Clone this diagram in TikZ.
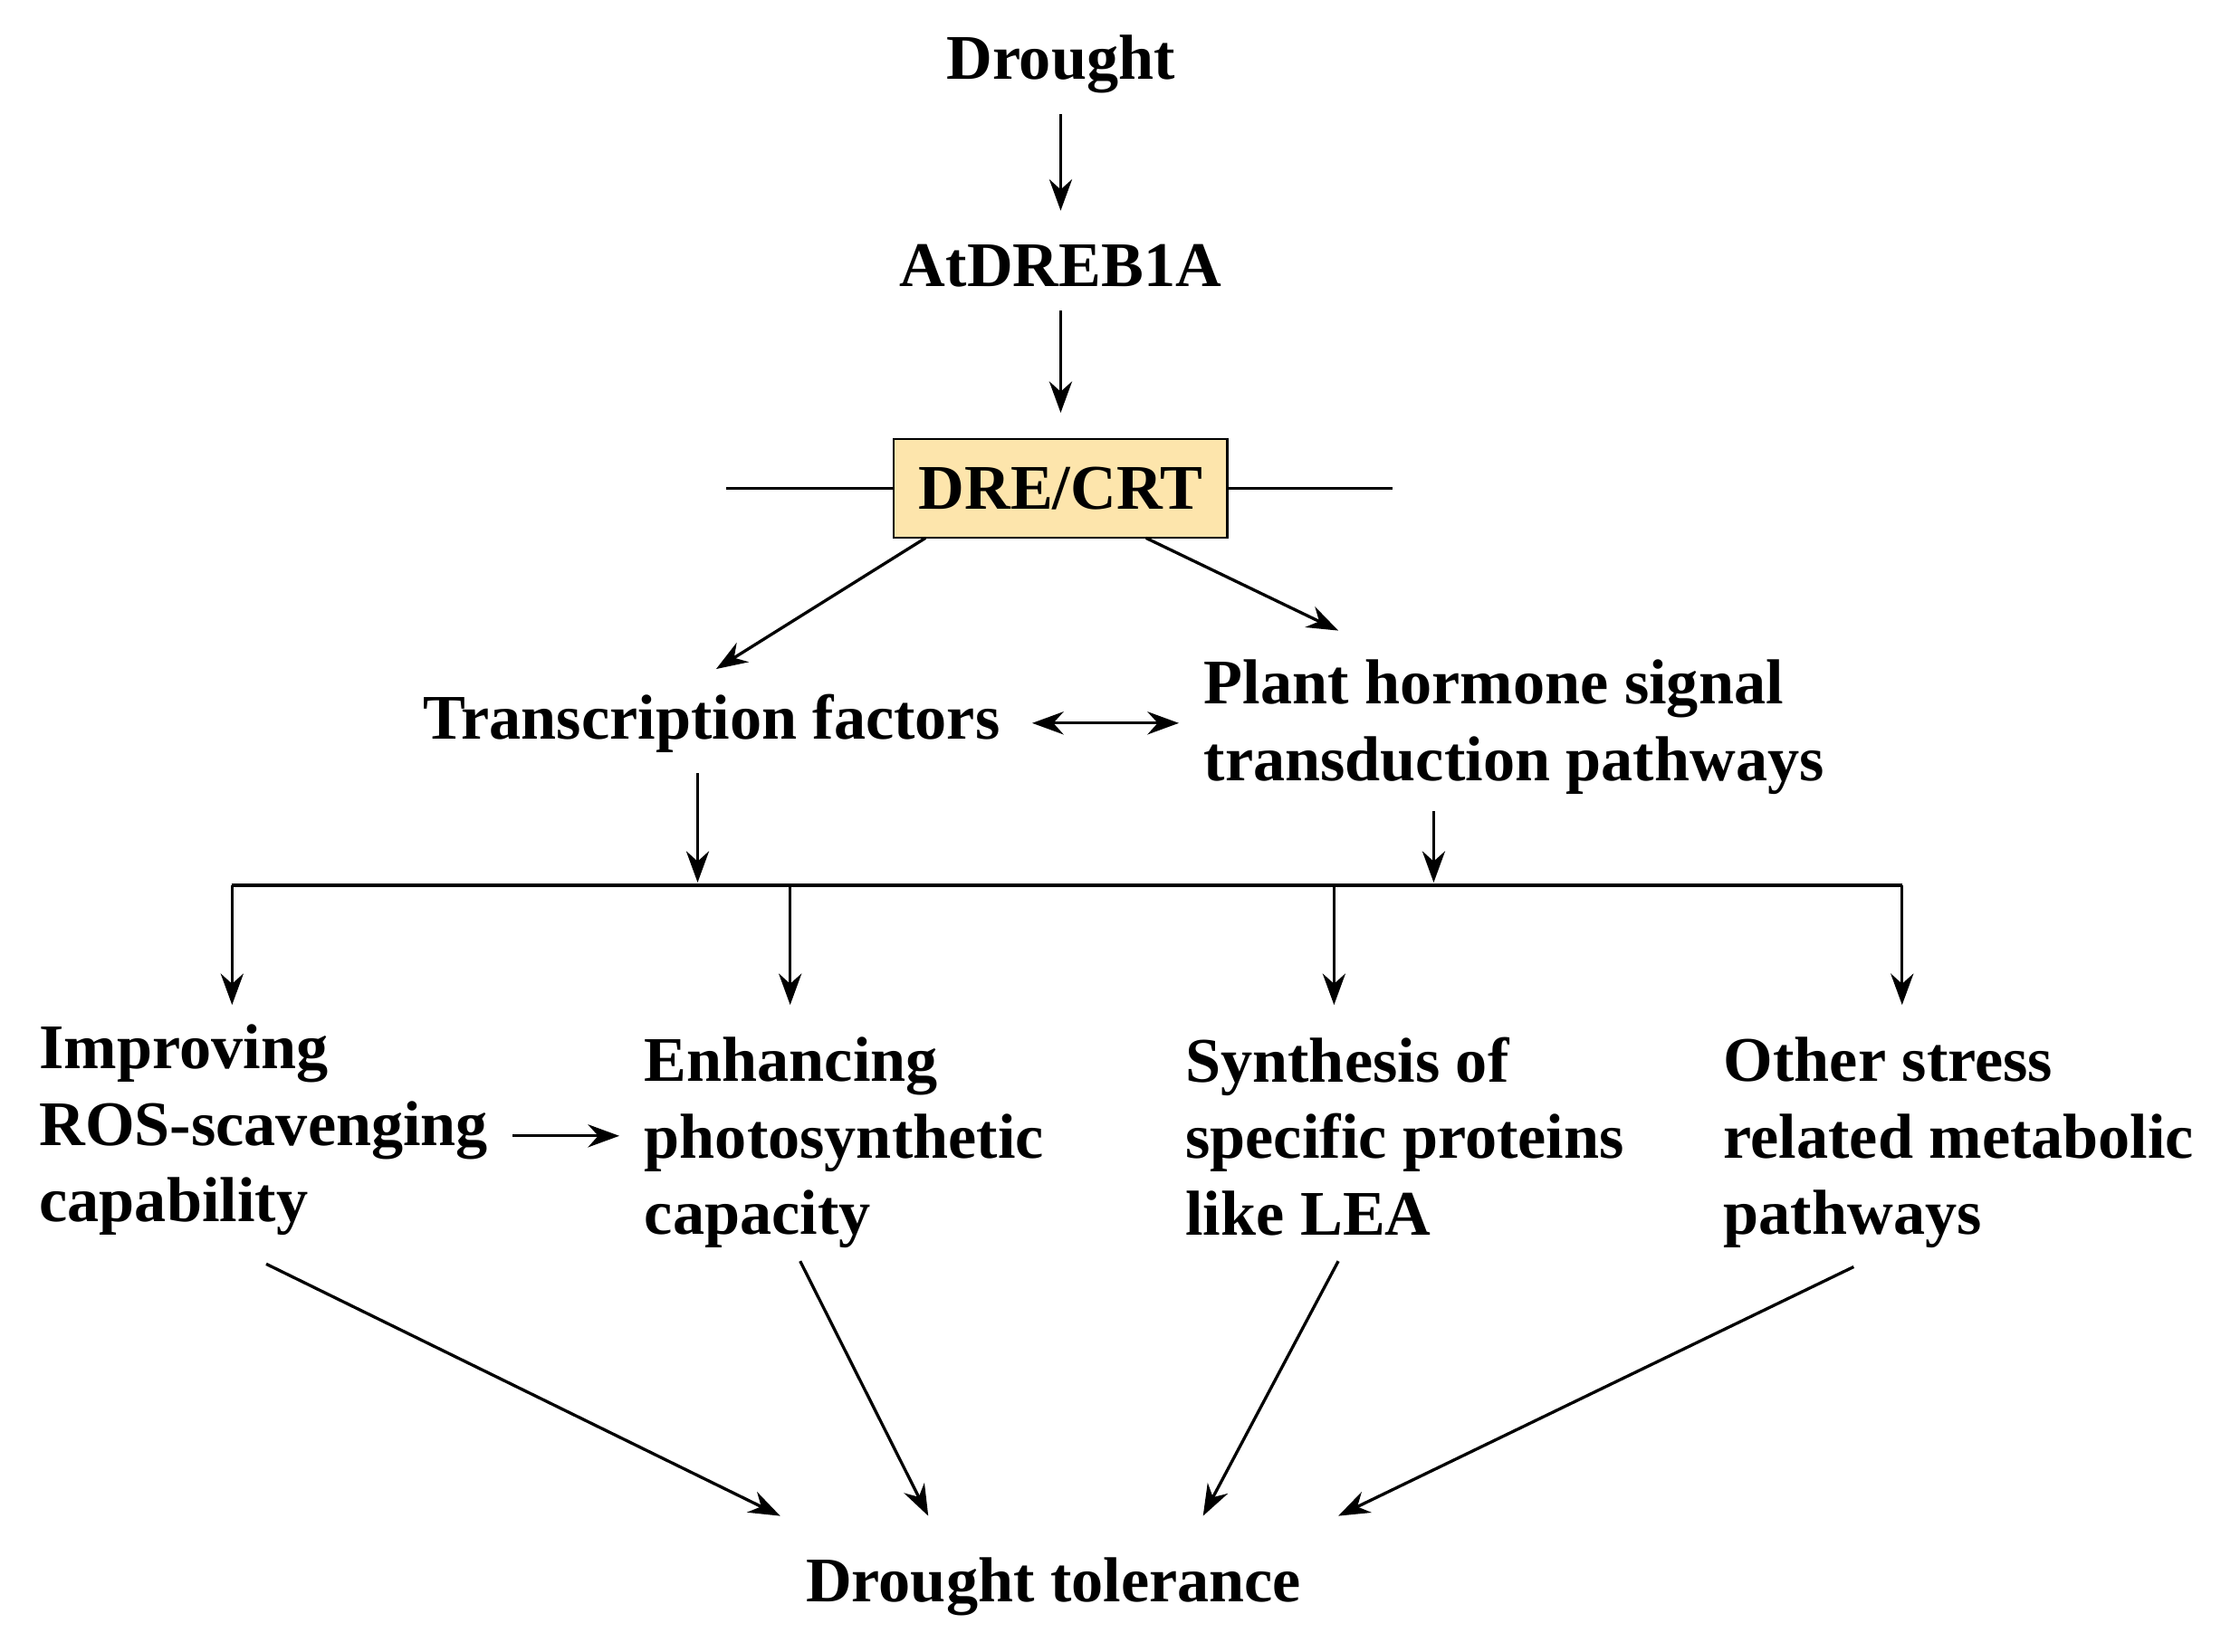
\documentclass[tikz,border=0pt]{standalone}
\usepackage{fontspec}
\setmainfont{Liberation Serif}
\usetikzlibrary{positioning, arrows.meta}

\begin{document}
\begin{tikzpicture}[x=0.01cm, y=-0.01cm,
label/.style={font=\fontsize{12.7}{15.3}\selectfont\bfseries, inner sep=0pt},
block/.style={label, align=left, anchor=north west},
path/.style={-{Stealth[length=2.2mm, width=1.6mm]}, semithick},
]
\useasboundingbox (0,0) rectangle (1560,1160);

%Nodes
\node [label] (drought) at (745,45) {Drought};
\node [label] (dreb) at (745,187) {AtDREB1A};
\node [label, draw=black, fill=yellow!40!orange!30, minimum width=2.34cm, minimum height=0.69cm] (dre) at (745,343) {DRE/CRT};
\coordinate (l_end) at (510,343);
\coordinate (r_end) at (978,343);
\node [label] (tf) at (500,508) {Transcription factors};
\node [block] (phs) at (845,463) {Plant hormone signal\\transduction pathways};
\coordinate (bar_l) at (163,622);
\coordinate (bar_r) at (1336,622);
\coordinate (tf_in) at (490,620);
\coordinate (phs_in) at (1007,620);
\node [block] (ros) at (27,719) {Improving\\ROS-scavenging\\capability};
\node [block] (photo) at (452,728) {Enhancing\\photosynthetic\\capacity};
\node [block] (lea) at (832,728) {Synthesis of\\specific proteins\\like LEA};
\node [block] (other) at (1210,728) {Other stress\\related metabolic\\pathways};
\node [label] (tol) at (740,1115) {Drought tolerance};

% Paths
\draw [path] (745,80) -- (745,148);
\draw [path] (745,218) -- (745,290);
\draw [semithick] (l_end) -- (dre.west);
\draw [semithick] (dre.east) -- (r_end);
\draw [path] (650,378) -- (503,470);
\draw [path] (805,378) -- (940,443);
\draw [{Stealth[length=2.2mm, width=1.6mm]}-{Stealth[length=2.2mm, width=1.6mm]}, semithick] (725,508) -- (828,508);
\draw [path] (490,543) -- (tf_in);
\draw [path] (1007,570) -- (phs_in);
\draw [semithick] (bar_l) -- (bar_r);
\foreach \x in {163,555,937,1336}
  \draw [path] (\x,622) -- (\x,706);
\draw [path] (360,798) -- (435,798);
\draw [path] (187,888) -- (548,1065);
\draw [path] (562,886) -- (652,1065);
\draw [path] (940,886) -- (845,1065);
\draw [path] (1302,890) -- (940,1065);
\end{tikzpicture}
\end{document}
